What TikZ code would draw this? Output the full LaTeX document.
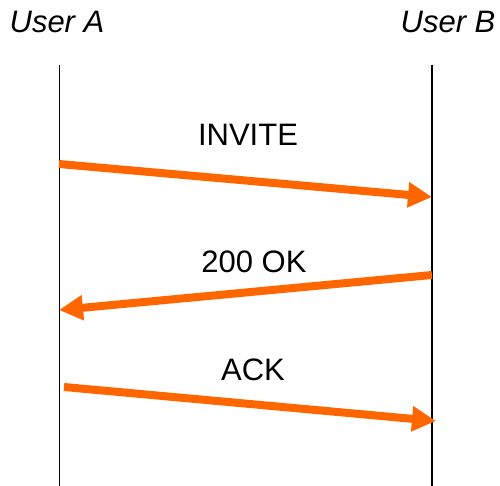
\documentclass[tikz,border=0pt]{standalone}
\usepackage{fontspec}
\setmainfont{Liberation Sans}
\usetikzlibrary{arrows.meta}
\definecolor{msgorange}{HTML}{FF6600}
\begin{document}
\begin{tikzpicture}[x=1pt,y=-1pt,
  lifeline/.style={draw=black,line width=1.8pt},
  msg/.style={draw=msgorange,line width=8pt,-{Triangle[length=24pt,width=24pt]}},
  user/.style={font=\fontsize{31}{37}\selectfont\itshape,inner sep=0pt},
  lbl/.style={font=\fontsize{31}{37}\selectfont,inner sep=0pt}]
\useasboundingbox (0,0) rectangle (500,486);
\node[user] (ua) at (57,22) {User A};
\node[user] (ub) at (448,22) {User B};
\coordinate (a0) at (59.5,65);
\coordinate (a1) at (59.5,486);
\coordinate (b0) at (432,65);
\coordinate (b1) at (432,486);
\draw[lifeline] (a0) -- (a1);
\draw[lifeline] (b0) -- (b1);
\coordinate (m1s) at (59,164);
\coordinate (m1e) at (432,197);
\coordinate (m2s) at (432,275);
\coordinate (m2e) at (59,310);
\coordinate (m3s) at (64,387);
\coordinate (m3e) at (436,421);
\draw[msg] (m1s) -- (m1e);
\draw[msg] (m2s) -- (m2e);
\draw[msg] (m3s) -- (m3e);
\node[lbl] (l1) at (248,135) {INVITE};
\node[lbl] (l2) at (254,262) {200 OK};
\node[lbl] (l3) at (253,370) {ACK};
\end{tikzpicture}
\end{document}
